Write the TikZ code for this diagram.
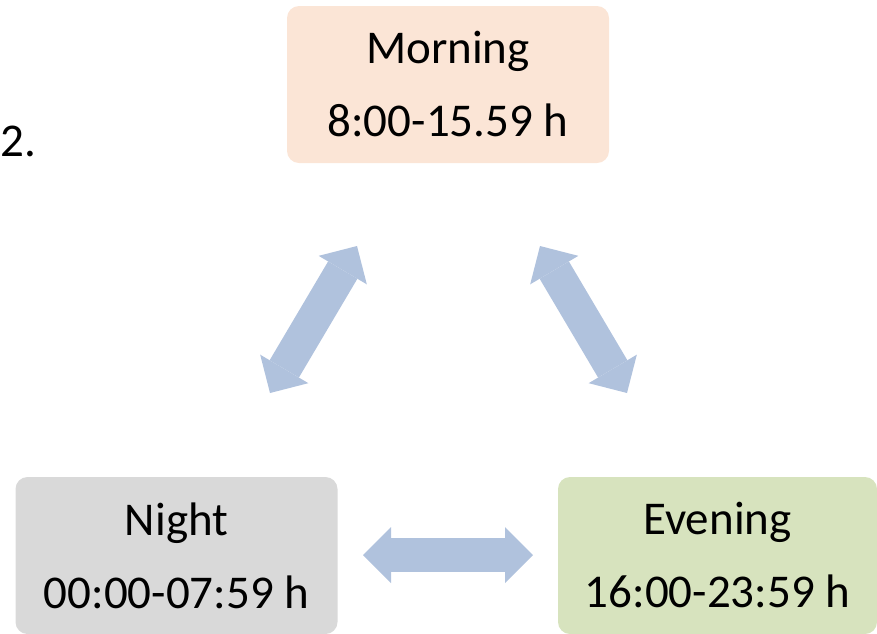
\documentclass[tikz,border=0pt]{standalone}
\usepackage{fontspec}
\setmainfont{Carlito}
\usepackage{xcolor}
\usetikzlibrary{arrows.meta, positioning}
\definecolor{morningfill}{HTML}{FBE5D6}
\definecolor{nightfill}{HTML}{D9D9D9}
\definecolor{eveningfill}{HTML}{D7E3BE}
\definecolor{arrowblue}{HTML}{B0C2DD}

\begin{document}
\begin{tikzpicture}[x=1pt, y=-1pt,
				period/.style={rectangle, rounded corners=12pt, minimum width=322pt, minimum height=157pt, inner sep=0pt, align=center, font=\fontsize{47}{73}\selectfont},
				link/.style={arrowblue, line width=34pt, {Triangle[length=28pt, width=56pt, line width=0pt]}-{Triangle[length=28pt, width=56pt, line width=0pt]}}]
				\useasboundingbox (0,0) rectangle (877,633);
				\node at (-3,156) (num) [anchor=base west, font=\fontsize{47}{56}\selectfont] {2.};
				\node at (448,84.5) (morning) [period, fill=morningfill] {Morning\\8:00-15.59 h};
				\node at (176.5,555.5) (night) [period, fill=nightfill] {Night\\00:00-07:59 h};
				\node at (717.5,555.5) (evening) [period, fill=eveningfill, minimum width=319pt] {Evening\\16:00-23:59 h};
				\coordinate (nightup) at (270,393);
				\coordinate (morningleft) at (357,246);
				\coordinate (morningright) at (540,246);
				\coordinate (eveningup) at (627,393);
				\coordinate (nightright) at (363,555);
				\coordinate (eveningleft) at (533,555);
				\draw[link] (nightup) -- (morningleft);
				\draw[link] (morningright) -- (eveningup);
				\draw[link] (nightright) -- (eveningleft);
			\end{tikzpicture}
\end{document}
